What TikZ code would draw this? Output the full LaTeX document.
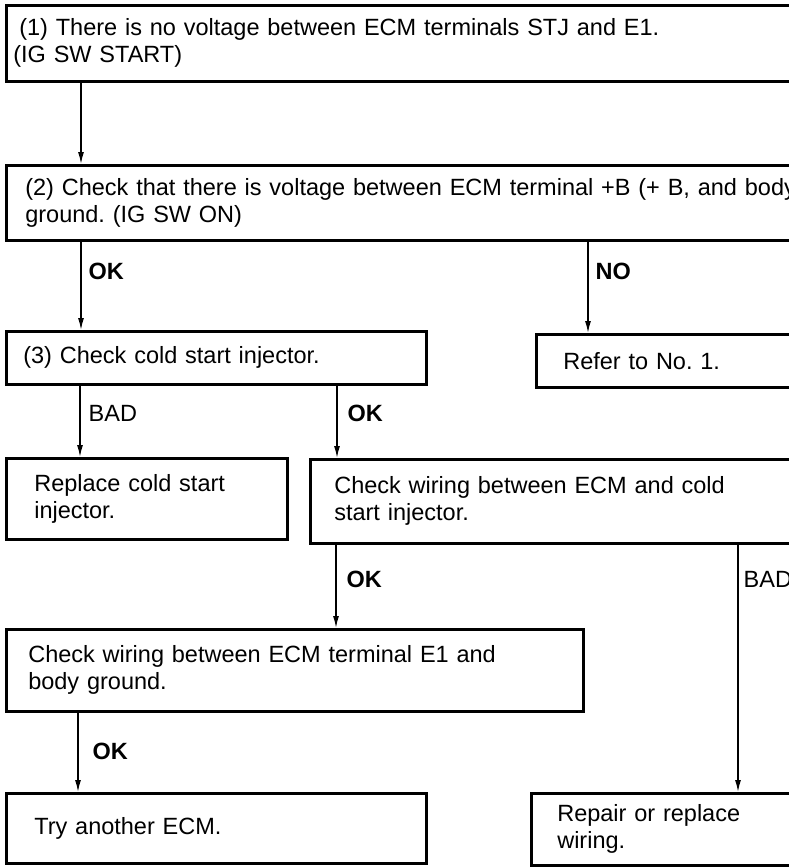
\documentclass[tikz,border=0pt]{standalone}
\usepackage{fontspec}
\setmainfont{Liberation Sans}
\usetikzlibrary{arrows.meta,positioning}
\frenchspacing

\begin{document}
\begin{tikzpicture}[
  x=0.5pt, y=-0.5pt,
  font=\fontsize{11.75pt}{13.5pt}\selectfont,
  box/.style={draw=black, line width=1.3pt, anchor=north west, align=left,
    inner ysep=0pt},
  flow/.style={-{Latex[length=6pt,width=3pt]}, line width=0.7pt},
  answer/.style={inner sep=0pt},
  okno/.style={answer, font=\fontsize{11.75pt}{13.5pt}\selectfont\bfseries},
]
  \useasboundingbox (0,0) rectangle (788,867);

  % check boxes
  \node[box, inner xsep=3.5pt, text width=420pt, minimum height=38pt]
    (no-voltage) at (5,4)
    {\hspace*{3pt}(1) There is no voltage between ECM terminals STJ and E1.\\
    (IG SW START)};
  \node[box, inner xsep=9.5pt, text width=420pt, minimum height=37.5pt]
    (plus-b) at (5,164)
    {(2) Check that there is voltage between ECM terminal +B (+ B, and body\\
    ground. (IG SW ON)};
  \node[box, inner xsep=8.5pt, text width=193pt, minimum height=26.5pt]
    (cold-start) at (5,330) {(3) Check cold start injector.};
  \node[box, inner xsep=13.5pt, text width=150pt, minimum height=26.5pt]
    (refer) at (535,333) {Refer to No. 1.};
  \node[box, inner xsep=14pt, text width=112.5pt, minimum height=40.5pt]
    (replace-injector) at (5,457) {Replace cold start\\injector.};
  \node[box, inner xsep=12pt, text width=300pt, minimum height=42pt]
    (injector-wiring) at (309,458)
    {Check wiring between ECM and cold\\start injector.};
  \node[box, inner xsep=11pt, text width=266.5pt, minimum height=41pt]
    (e1-ground) at (5,628)
    {Check wiring between ECM terminal E1 and\\body ground.};
  \node[box, inner xsep=14pt, text width=182pt, minimum height=35pt]
    (try-ecm) at (5,792) {Try another ECM.};
  \node[box, inner xsep=13pt, text width=150pt, minimum height=36pt]
    (repair-wiring) at (530,792) {Repair or replace\\wiring.};

  % connectors
  \draw[flow] ([xshift=38pt]no-voltage.south west)
    -- ([xshift=38pt]plus-b.north west);
  \draw[flow] ([xshift=38pt]plus-b.south west)
    -- node[okno, pos=0.34, right=3.5pt] {OK} ([xshift=38pt]cold-start.north west);
  \draw[flow] ([xshift=291.5pt]plus-b.south west)
    -- node[okno, pos=0.33, right=3.5pt] {NO} ([xshift=26.5pt]refer.north west);
  \draw[flow] ([xshift=37.5pt]cold-start.south west)
    -- node[answer, pos=0.39, right=4pt] {BAD} ([xshift=37.5pt]replace-injector.north west);
  \draw[flow] ([xshift=166pt]cold-start.south west)
    -- node[okno, pos=0.39, right=5pt] {OK} ([xshift=14pt]injector-wiring.north west);
  \draw[flow] ([xshift=13.5pt]injector-wiring.south west)
    -- node[okno, pos=0.42, right=5pt] {OK} ([xshift=165.5pt]e1-ground.north west);
  \draw[flow] ([xshift=214.5pt]injector-wiring.south west)
    -- node[answer, pos=0.14, right=2.5pt] {BAD} ([xshift=104pt]repair-wiring.north west);
  \draw[flow] ([xshift=36.5pt]e1-ground.south west)
    -- node[okno, pos=0.49, right=7pt] {OK} ([xshift=36.5pt]try-ecm.north west);
\end{tikzpicture}
\end{document}
